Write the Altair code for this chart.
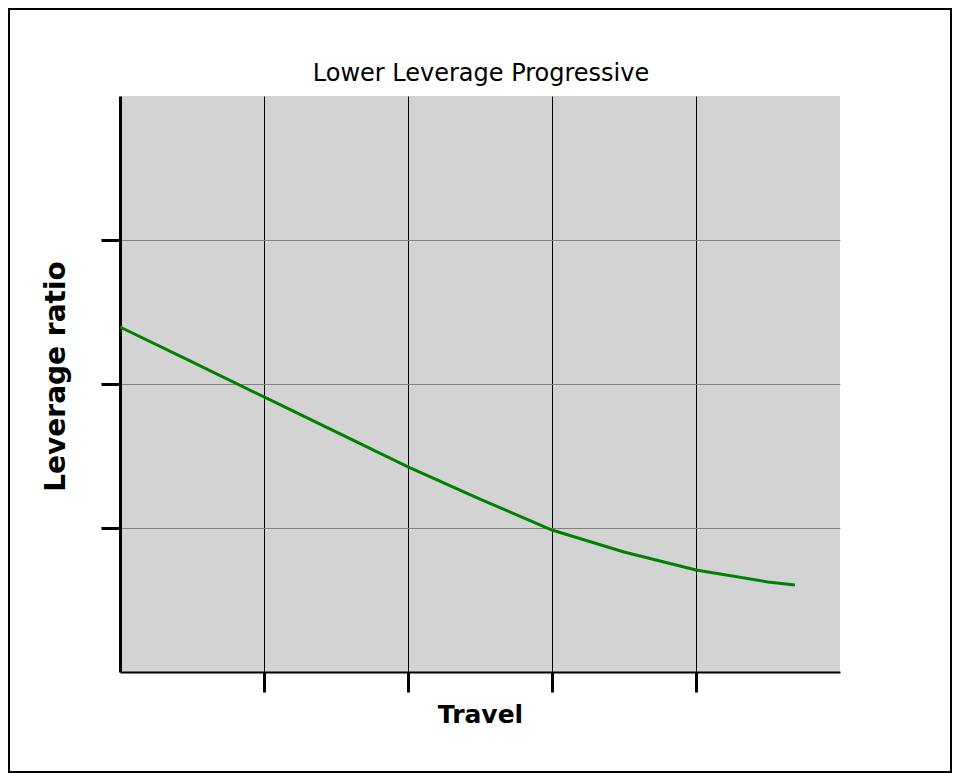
import altair as alt
import pandas as pd

# Data
travel = [0, 0.5, 1, 1.5, 2, 2.5, 3, 3.5, 4, 4.5, 4.6875]
leverage = [2.396, 2.153, 1.910, 1.667, 1.424, 1.201, 0.986, 0.833, 0.708, 0.625, 0.604]
x_ticks = [1, 2, 3, 4]
y_ticks = [1, 2, 3]
title_text = ["Lower Leverage Progressive"]

df = pd.DataFrame({"travel": travel, "leverage": leverage})

W, H = 720, 576
PAD_L, PAD_T, PAD_R, PAD_B = 112, 88, 112, 101

x_enc = alt.X(
    "travel:Q",
    scale=alt.Scale(domain=[0, 5], nice=False, zero=False),
    axis=alt.Axis(
        values=x_ticks, labels=False, title="Travel",
        domainColor="black", domainWidth=2,
        tickColor="black", tickWidth=3, tickSize=20,
        grid=True, gridColor="black", gridWidth=1, gridOpacity=1,
        titleFont="DejaVu Sans", titleFontSize=25, titleFontWeight="bold",
        titleColor="black", titleBaseline="alphabetic", titleY=50, titleX=360,
    ),
)
y_enc = alt.Y(
    "leverage:Q",
    scale=alt.Scale(domain=[0, 4], nice=False, zero=False),
    axis=alt.Axis(
        values=y_ticks, labels=False, title="Leverage ratio",
        domainColor="black", domainWidth=3,
        tickColor="black", tickWidth=3, tickSize=19,
        grid=True, gridColor="#808080", gridWidth=1, gridOpacity=1,
        titleFont="DejaVu Sans", titleFontSize=28, titleFontWeight="bold",
        titleColor="black", titleBaseline="alphabetic", titleX=-56, titleY=280,
        titleAngle=270,
    ),
)

line = alt.Chart(df).mark_line(color="#008000", strokeWidth=3).encode(x=x_enc, y=y_enc)

border = alt.Chart(pd.DataFrame({"a": [0]})).mark_rect(
    fillOpacity=0, stroke="black", strokeWidth=2, clip=False
).encode(
    x=alt.value(-PAD_L + 1), x2=alt.value(W + PAD_R - 1),
    y=alt.value(-PAD_T + 1), y2=alt.value(H + PAD_B - 1),
)

title = alt.Chart(pd.DataFrame({"t": title_text})).mark_text(
    font="DejaVu Sans", fontSize=24, fontWeight="normal", color="black",
    align="center", baseline="alphabetic", clip=False,
).encode(text="t:N", x=alt.value(W / 2 + 1), y=alt.value(-15))

chart = alt.layer(line, border, title).properties(
    width=W, height=H,
    padding={"left": PAD_L, "top": PAD_T, "right": PAD_R, "bottom": PAD_B},
    autosize=alt.AutoSizeParams(type="none"),
    background="white",
).configure_view(fill="#D3D3D3", strokeWidth=0)

chart.save("out.html", embed_options={"renderer": "svg", "actions": False})
